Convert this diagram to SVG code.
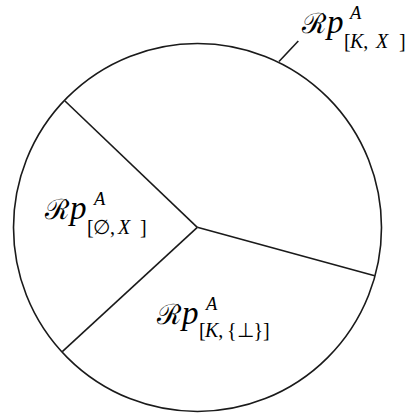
<svg xmlns="http://www.w3.org/2000/svg" width="406" height="417" viewBox="0 0 406 417">
<style>
.ln{stroke:#1a1a1a;stroke-width:1.6;fill:none}
text{font-family:"Liberation Serif","Times New Roman",serif;fill:#000}
.R{font-size:28px}
.p{font-style:italic;font-size:33px}
.a{font-style:italic;font-size:18.5px}
.s{font-size:20px}
.i{font-style:italic}
</style>
<rect width="406" height="417" fill="#fff"/>
<g id="shape">
<circle class="ln" cx="197.5" cy="227.5" r="184"/>
</g>
<g id="connectors">
<line class="ln" x1="197.3" y1="227.3" x2="65" y2="101"/>
<line class="ln" x1="197.3" y1="227.3" x2="374.7" y2="275.7"/>
<line class="ln" x1="197.3" y1="227.3" x2="62.3" y2="351.7"/>
<line class="ln" x1="279" y1="61.5" x2="298.3" y2="41"/>
</g>
<g id="region-top">
<text x="302" y="33" class="R">ℛ</text>
<text x="327" y="33" class="p">p</text>
<text x="350" y="19" class="a">A</text>
<text y="47.5" class="s"><tspan x="344">[</tspan><tspan x="350"><tspan class="i">K</tspan>,</tspan><tspan x="376" class="i">X</tspan><tspan x="399">]</tspan></text>
</g>
<g id="region-left">
<text x="45" y="219" class="R">ℛ</text>
<text x="70" y="219" class="p">p</text>
<text x="94" y="204.5" class="a">A</text>
<text y="233.5" class="s"><tspan x="87">[</tspan><tspan x="93">∅,</tspan><tspan x="118" class="i">X</tspan><tspan x="140">]</tspan></text>
</g>
<g id="region-bottom">
<text x="157" y="324" class="R">ℛ</text>
<text x="182" y="324" class="p">p</text>
<text x="206" y="309.5" class="a">A</text>
<text y="337" class="s"><tspan x="199">[</tspan><tspan x="205"><tspan class="i">K</tspan>,</tspan><tspan x="227">{⊥}</tspan><tspan x="263">]</tspan></text>
</g>
</svg>
